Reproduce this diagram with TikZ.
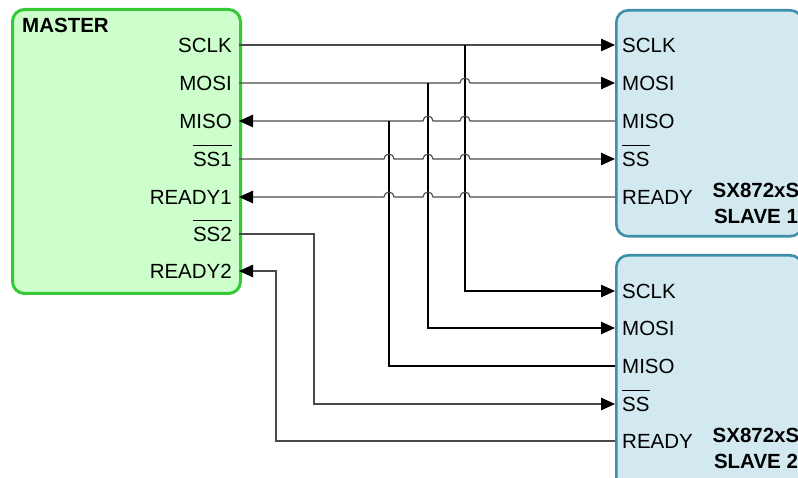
\documentclass[tikz,border=0pt]{standalone}
\usepackage{fontspec}
\setmainfont{Liberation Sans}
\usetikzlibrary{arrows.meta}
\definecolor{mfill}{HTML}{CCFFCC}
\definecolor{mdraw}{HTML}{36C936}
\definecolor{sfill}{HTML}{D2E9EF}
\definecolor{sdraw}{HTML}{3D8FA7}
\definecolor{wire}{HTML}{4A4A4A}
% active-low signal name: text with a bar set well above it
\newcommand\barred[1]{\setbox0\hbox{#1}%
  \rlap{\smash{\raisebox{\dimexpr\ht0+5.5pt\relax}{\rule{\wd0}{1.4pt}}}}\box0}
\tikzset{
  x=1pt, y=1pt,
  master/.style={draw=mdraw, fill=mfill, line width=3pt, rounded corners=12pt,
    anchor=north west, inner sep=0pt},
  slave/.style={draw=sdraw, fill=sfill, line width=2.6pt, rounded corners=12pt,
    anchor=north west, inner sep=0pt},
  pinl/.style={anchor=east, inner sep=0pt, font=\fontsize{20.5}{24}\selectfont},
  pinr/.style={anchor=west, inner sep=0pt, font=\fontsize{20.5}{24}\selectfont},
  title/.style={inner sep=0pt, font=\fontsize{20.5}{26}\selectfont\bfseries},
  wirestyle/.style={draw=wire, line width=1.1pt},
  arr/.style={wirestyle, -{Triangle[length=14pt,width=12.5pt,color=black,fill=black]}},
}
\begin{document}
\begin{tikzpicture}
\useasboundingbox (0,0) rectangle (798,-478);
\clip (0,0) rectangle (798,-478);

% boxes
\node[master, minimum width=228pt, minimum height=284pt] (master) at (11,-8) {};
\node[slave, minimum width=186pt, minimum height=226pt] (slave1) at (615,-9) {};
\node[slave, minimum width=186pt, minimum height=250pt] (slave2) at (615,-254) {};
\node[title, anchor=west] (mtitle) at (22,-25.5) {MASTER};
\node[title, align=center] (s1title) at (756,-203) {SX872xS\\SLAVE 1};
\node[title, align=center] (s2title) at (756,-448) {SX872xS\\SLAVE 2};

% master pins
\coordinate (m-sclk) at (239,-45);
\coordinate (m-mosi) at (239,-83);
\coordinate (m-miso) at (239,-121);
\coordinate (m-ss1)  at (239,-159);
\coordinate (m-rdy1) at (239,-197);
\coordinate (m-ss2)  at (239,-234);
\coordinate (m-rdy2) at (239,-271);
\node[pinl] (lm-sclk) at (232,-45) {SCLK};
\node[pinl] (lm-mosi) at (232,-83) {MOSI};
\node[pinl] (lm-miso) at (232,-121) {MISO};
\node[pinl] (lm-ss1)  at (232,-159) {\barred{SS1}};
\node[pinl] (lm-rdy1) at (232,-197) {READY1};
\node[pinl] (lm-ss2)  at (232,-234) {\barred{SS2}};
\node[pinl] (lm-rdy2) at (232,-271) {READY2};

% slave 1 pins
\coordinate (s1-sclk) at (615,-45);
\coordinate (s1-mosi) at (615,-83);
\coordinate (s1-miso) at (615,-121);
\coordinate (s1-ss)   at (615,-159);
\coordinate (s1-rdy)  at (615,-197);
\node[pinr] (l1-sclk) at (622,-45) {SCLK};
\node[pinr] (l1-mosi) at (622,-83) {MOSI};
\node[pinr] (l1-miso) at (622,-121) {MISO};
\node[pinr] (l1-ss)   at (622,-159) {\barred{SS}};
\node[pinr] (l1-rdy)  at (622,-197) {READY};

% slave 2 pins
\coordinate (s2-sclk) at (615,-291);
\coordinate (s2-mosi) at (615,-328);
\coordinate (s2-miso) at (615,-366);
\coordinate (s2-ss)   at (615,-404);
\coordinate (s2-rdy)  at (615,-441);
\node[pinr] (l2-sclk) at (622,-291) {SCLK};
\node[pinr] (l2-mosi) at (622,-328) {MOSI};
\node[pinr] (l2-miso) at (622,-366) {MISO};
\node[pinr] (l2-ss)   at (622,-404) {\barred{SS}};
\node[pinr] (l2-rdy)  at (622,-441) {READY};

% bus taps
\coordinate (t-sclk) at (465,-45);
\coordinate (t-mosi) at (428,-83);
\coordinate (t-miso) at (389,-121);
\coordinate (b-ss2)  at (314,-234);
\coordinate (b-rdy2) at (276,-441);

% shared bus lines to both slaves
\draw[arr] (m-sclk) -- (s1-sclk);
\draw[arr, draw=black] (t-sclk) |- (s2-sclk);
\draw[arr] (m-mosi) -- (465-5,-83) arc (180:0:5) -- (s1-mosi);
\draw[arr, draw=black] (t-mosi) |- (s2-mosi);
\draw[arr] (s1-miso) -- (465+5,-121) arc (0:180:5) -- (428+5,-121) arc (0:180:5) -- (m-miso);
\draw[wirestyle, draw=black] (t-miso) |- (s2-miso);

% slave 1 select and ready
\draw[arr] (m-ss1) -- (389-5,-159) arc (180:0:5) -- (428-5,-159) arc (180:0:5)
  -- (465-5,-159) arc (180:0:5) -- (s1-ss);
\draw[arr] (s1-rdy) -- (465+5,-197) arc (0:180:5) -- (428+5,-197) arc (0:180:5)
  -- (389+5,-197) arc (0:180:5) -- (m-rdy1);

% slave 2 select and ready
\draw[arr] (m-ss2) -- (b-ss2) |- (s2-ss);
\draw[arr] (s2-rdy) -- (b-rdy2) |- (m-rdy2);
\end{tikzpicture}
\end{document}
